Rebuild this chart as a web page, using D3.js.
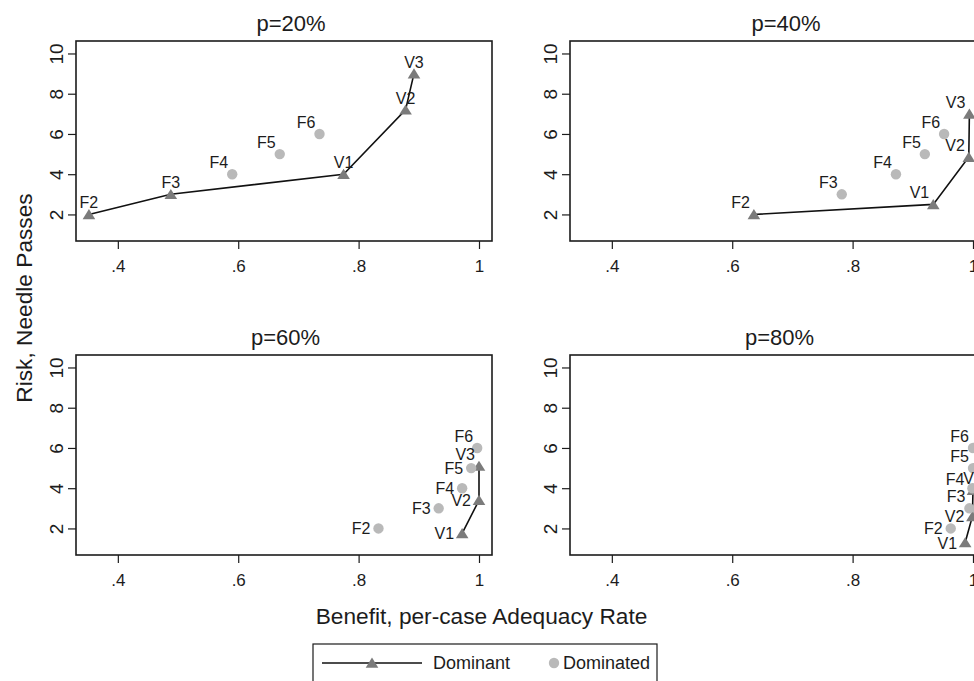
<!DOCTYPE html>
<html>
<head>
<meta charset="utf-8">
<script src="https://cdn.jsdelivr.net/npm/d3@7"></script>
<style>
  html, body { margin: 0; padding: 0; background: #fff; overflow: hidden; }
  svg { display: block; font-family: "Liberation Sans", Arial, Helvetica, sans-serif; }
</style>
</head>
<body>
<svg id="chart" width="974" height="681"></svg>
<script>
// ---------------- DATA ----------------
const strategies = ["F2", "F3", "F4", "F5", "F6", "V1", "V2", "V3"];
const panelTitles = ["p=20%", "p=40%", "p=60%", "p=80%"];

const benefit20 = [0.352, 0.488, 0.590, 0.669, 0.735, 0.775, 0.878, 0.892];
const risk20    = [2, 3, 4, 5, 6, 4.0, 7.2, 9.0];
const dominant20 = [1, 1, 0, 0, 0, 1, 1, 1];

const benefit40 = [0.636, 0.782, 0.872, 0.920, 0.952, 0.934, 0.993, 0.994];
const risk40    = [2, 3, 4, 5, 6, 2.5, 4.85, 7.0];
const dominant40 = [1, 0, 0, 0, 0, 1, 1, 1];

const benefit60 = [0.833, 0.933, 0.972, 0.987, 0.997, 0.972, 1.0, 1.0];
const risk60    = [2, 3, 4, 5, 6, 1.75, 3.4, 5.1];
const dominant60 = [0, 0, 0, 0, 0, 1, 1, 1];

const benefit80 = [0.963, 0.994, 0.999, 1.0, 1.0, 0.987, 0.999, 1.0];
const risk80    = [2, 3, 4, 5, 6, 1.3, 2.6, 3.9];
const dominant80 = [0, 0, 0, 0, 0, 1, 1, 1];

const xTicks = [0.4, 0.6, 0.8, 1];
const xTickLabels = [".4", ".6", ".8", "1"];
const yTicks = [2, 4, 6, 8, 10];
const yTickLabels = ["2", "4", "6", "8", "10"];

const xTitle = "Benefit, per-case Adequacy Rate";
const yTitle = "Risk, Needle Passes";
const legendLabels = ["Dominant", "Dominated"];

// label clock positions (Stata-style mlabposition), per panel, per strategy
const labelClock = [
  [12, 12, 11, 11, 11, 12, 12, 12],
  [11, 11, 11, 11, 11, 11, 11, 11],
  [9, 9, 9, 9, 11, 9, 9, 11],
  [9, 11, 10, 11, 11, 9, 9, 12]
];

// ---------------- LAYOUT ----------------
const svg = d3.select("#chart");
const W = 416, H = 200;
const panelPos = [
  { x: 76, y: 41, tdx: 7 },
  { x: 570, y: 41, tdx: 8 },
  { x: 76, y: 355, tdx: 1.5 },
  { x: 570, y: 355, tdx: 1.5 }
];
const FONT_XTICK = 17, FONT_YTICK = 19, FONT_LABEL = 16, FONT_TITLE = 22, FONT_AXIS = 22.7, FONT_LEG = 18;
const triColor = "#7b7b7b", circColor = "#b9b9b9", ink = "#1c1c1c";

const x = d3.scaleLinear().domain([0.3305, 1.0216]).range([0, W]);
const y = d3.scaleLinear().domain([0.68, 10.62]).range([H, 0]);

function triPath(cx, cy) {
  const hw = 6.3, up = 5.4, dn = 4.8;
  return `M${cx},${cy - up}L${cx + hw},${cy + dn}L${cx - hw},${cy + dn}Z`;
}

const panelsData = [
  [benefit20, risk20, dominant20],
  [benefit40, risk40, dominant40],
  [benefit60, risk60, dominant60],
  [benefit80, risk80, dominant80]
];

panelsData.forEach(([ben, risk, dom], pi) => {
  const pos = panelPos[pi];
  const g = svg.append("g").attr("transform", `translate(${pos.x},${pos.y})`);
  const pts = strategies.map((s, i) => ({ s, b: ben[i], r: risk[i], d: dom[i], clk: labelClock[pi][i] }));

  // title
  g.append("text").attr("x", W / 2 + pos.tdx).attr("y", -10)
    .attr("text-anchor", "middle").attr("font-size", FONT_TITLE).attr("fill", ink)
    .text(panelTitles[pi]);

  // x axis
  const xa = g.append("g").attr("transform", `translate(0,${H})`)
    .call(d3.axisBottom(x).tickValues(xTicks).tickSize(8).tickPadding(11)
      .tickFormat((d, i) => xTickLabels[i]));
  xa.select(".domain").remove();
  xa.selectAll("line").attr("stroke", ink).attr("stroke-width", 1.2);
  xa.selectAll("text").attr("font-size", FONT_XTICK).attr("fill", ink)
    .attr("font-family", "Liberation Sans, Arial, sans-serif");

  // y axis
  const ya = g.append("g")
    .call(d3.axisLeft(y).tickValues(yTicks).tickSize(8)
      .tickFormat((d, i) => yTickLabels[i]));
  ya.select(".domain").remove();
  ya.selectAll("line").attr("stroke", ink).attr("stroke-width", 1.2);
  ya.selectAll("text").attr("x", 0).attr("y", 0).attr("dy", null)
    .attr("text-anchor", "middle")
    .attr("transform", "translate(-13,0) rotate(-90)")
    .attr("font-size", FONT_YTICK).attr("fill", ink)
    .attr("font-family", "Liberation Sans, Arial, sans-serif");

  // frame
  g.append("rect").attr("x", 0).attr("y", 0).attr("width", W).attr("height", H)
    .attr("fill", "none").attr("stroke", ink).attr("stroke-width", 1.6);

  // dominant line
  const domPts = pts.filter(p => p.d).sort((a, b) => a.r - b.r);
  g.append("path").datum(domPts)
    .attr("d", d3.line().x(p => x(p.b)).y(p => y(p.r)))
    .attr("fill", "none").attr("stroke", "#111").attr("stroke-width", 1.6);

  // triangles
  g.selectAll("path.tri").data(domPts).join("path").attr("class", "tri")
    .attr("d", p => triPath(x(p.b), y(p.r))).attr("fill", triColor);

  // circles
  g.selectAll("circle.dom").data(pts.filter(p => !p.d)).join("circle").attr("class", "dom")
    .attr("cx", p => x(p.b)).attr("cy", p => y(p.r)).attr("r", 5.2).attr("fill", circColor);

  // labels
  g.selectAll("text.lab").data(pts).join("text").attr("class", "lab")
    .attr("font-size", FONT_LABEL).attr("fill", ink)
    .attr("x", p => {
      const cx = x(p.b);
      if (p.clk === 12) return cx;
      if (p.clk === 11) return cx - 4;
      return cx - 8;
    })
    .attr("y", p => {
      const cy = y(p.r);
      if (p.clk === 12 || p.clk === 11) return cy - 6;
      if (p.clk === 10) return cy - 3;
      return cy + 6;
    })
    .attr("text-anchor", p => p.clk === 12 ? "middle" : "end")
    .text(p => p.s);
});

// axis titles
svg.append("text").attr("transform", "translate(32,298) rotate(-90)")
  .attr("text-anchor", "middle").attr("font-size", FONT_AXIS).attr("fill", ink).text(yTitle);
svg.append("text").attr("x", 481.5).attr("y", 624)
  .attr("text-anchor", "middle").attr("font-size", FONT_AXIS).attr("fill", ink).text(xTitle);

// legend
const lg = svg.append("g");
lg.append("rect").attr("x", 313).attr("y", 644).attr("width", 344).attr("height", 40)
  .attr("fill", "#fff").attr("stroke", ink).attr("stroke-width", 1.2);
lg.append("line").attr("x1", 322).attr("x2", 422).attr("y1", 663).attr("y2", 663)
  .attr("stroke", "#111").attr("stroke-width", 1.6);
lg.append("path").attr("d", triPath(372, 663)).attr("fill", triColor);
lg.append("text").attr("x", 433).attr("y", 669).attr("font-size", FONT_LEG).attr("fill", ink).text(legendLabels[0]);
lg.append("circle").attr("cx", 554).attr("cy", 663).attr("r", 5.2).attr("fill", circColor);
lg.append("text").attr("x", 563).attr("y", 669).attr("font-size", FONT_LEG).attr("fill", ink).text(legendLabels[1]);
</script>
</body>
</html>
